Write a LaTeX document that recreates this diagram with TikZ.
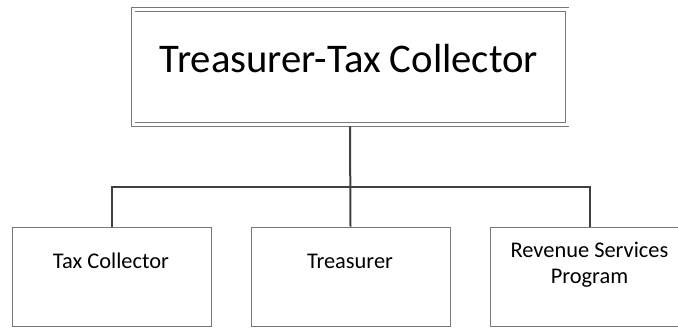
\documentclass[tikz,border=0pt]{standalone}
\usepackage{fontspec}
\setmainfont{Carlito}
\definecolor{boxline}{RGB}{120,120,120}
\definecolor{wire}{RGB}{64,64,64}
\begin{document}
\begin{tikzpicture}[x=1pt,y=-1pt,
  headbox/.style={draw=boxline, double, double distance=3pt, line width=0.9pt,
    minimum width=434pt, minimum height=115pt, inner sep=0pt},
  unitbox/.style={draw=boxline, line width=0.9pt, fill=white,
    minimum width=199pt, minimum height=99pt, inner sep=0pt},
  headtext/.style={anchor=base, inner sep=0pt, font=\fontsize{40.7}{48}\selectfont},
  unittext/.style={anchor=base, inner sep=0pt, align=center,
    font=\fontsize{22.4}{26}\selectfont},
  wireline/.style={draw=wire, line width=2pt}]
\useasboundingbox (0,0) rectangle (678,327);

% boxes
\node[headbox] (chief) at (350,67) {};
\node[unitbox] (tax)   at (111.5,276.5) {};
\node[unitbox] (treas) at (350.5,276.5) {};
\node[unitbox] (rev)   at (589.5,276.5) {};

% connectors
\draw[wireline] ([yshift=-1.5pt]chief.south) -- (treas.north);
\draw[wireline] (tax.north) -- ++(0,-40) -| (rev.north);

% labels (multi-line text sits on the baseline of its last line)
\node[headtext] (chiefText) at (349,72) {Treasurer-Tax Collector};
\node[unittext] (taxText)   at (111,268) {Tax Collector};
\node[unittext] (treasText) at (350,268) {Treasurer};
\node[unittext] (revText)   at (589.5,283) {Revenue Services\\Program};
\end{tikzpicture}
\end{document}
